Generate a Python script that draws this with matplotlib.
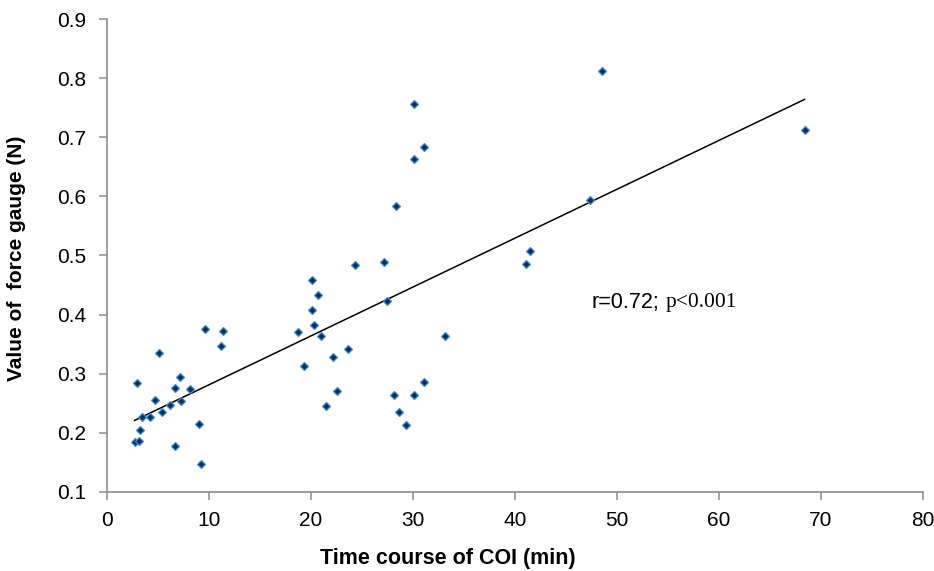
import numpy as np
import matplotlib
matplotlib.use("Agg")
import matplotlib.pyplot as plt

# values
coi_min = [2.7, 3.1, 3.2, 3.4, 4.2, 2.9, 4.7, 5.4, 5.1, 6.2,
           6.7, 7.2, 7.3, 6.7, 8.1, 9.0, 9.2, 9.6, 11.4, 11.2,
           18.7, 19.3, 20.1, 20.7, 20.1, 20.3, 21.0, 22.2, 23.6, 22.6,
           21.5, 24.3, 27.2, 27.5, 33.1, 31.1, 28.1, 30.1, 28.6, 29.3,
           30.1, 31.1, 30.1, 28.3, 41.5, 41.1, 48.5, 68.4, 47.4]
force_n = [0.185, 0.187, 0.205, 0.226, 0.226, 0.284, 0.255, 0.235, 0.335, 0.247,
           0.276, 0.295, 0.254, 0.177, 0.274, 0.215, 0.147, 0.375, 0.373, 0.347,
           0.371, 0.313, 0.458, 0.434, 0.408, 0.383, 0.363, 0.328, 0.342, 0.271,
           0.245, 0.484, 0.489, 0.423, 0.363, 0.286, 0.264, 0.264, 0.236, 0.213,
           0.757, 0.684, 0.664, 0.584, 0.508, 0.485, 0.812, 0.713, 0.594]

# linear trend line end points
trend_x = [2.7, 68.4]
trend_y = [0.221, 0.764]

plt.rcParams['font.family'] = ['Liberation Sans', 'DejaVu Sans']

fig = plt.figure(figsize=(9.34, 5.71), dpi=100)
ax = fig.add_axes([0.1146, 0.1384, 0.8734, 0.8283])

ax.plot(trend_x, trend_y, color='black', lw=1.1, zorder=2)
ax.plot(coi_min, force_n, ls='none', marker='D', ms=4.2,
        mfc='#0b2f55', mec='#3d8ed6', mew=0.9, zorder=3)

ax.set_xlim(0, 80)
ax.set_ylim(0.1, 0.9)
ax.set_xticks(np.arange(0, 81, 10))
ax.set_yticks(np.arange(0.1, 0.91, 0.1))
ax.set_yticklabels(['%.1f' % v for v in np.arange(0.1, 0.91, 0.1)])

for s in ['top', 'right']:
    ax.spines[s].set_visible(False)
for s in ['left', 'bottom']:
    ax.spines[s].set_color('#8c8c8c')
    ax.spines[s].set_linewidth(1.2)
ax.tick_params(colors='#8c8c8c', labelcolor='black', labelsize=15,
               length=6, width=1.1, direction='out')
ax.tick_params(axis='y', pad=9)
ax.tick_params(axis='x', pad=8)

ax.set_xlabel('Time course of COI (min)', fontsize=15.5, fontweight='bold')
ax.xaxis.set_label_coords(0.418, -0.118)
ax.set_ylabel('Value of  force gauge (N)', fontsize=15, fontweight='bold')
ax.yaxis.set_label_coords(-0.099, 0.493)

ax.text(47.5, 0.42, 'r=0.72;', fontsize=15.5, va='center', ha='left')
ax.text(54.8, 0.42, 'p<0.001', fontsize=15.5, va='center', ha='left',
        family='Liberation Serif')

fig.savefig('out.png', dpi=100)
